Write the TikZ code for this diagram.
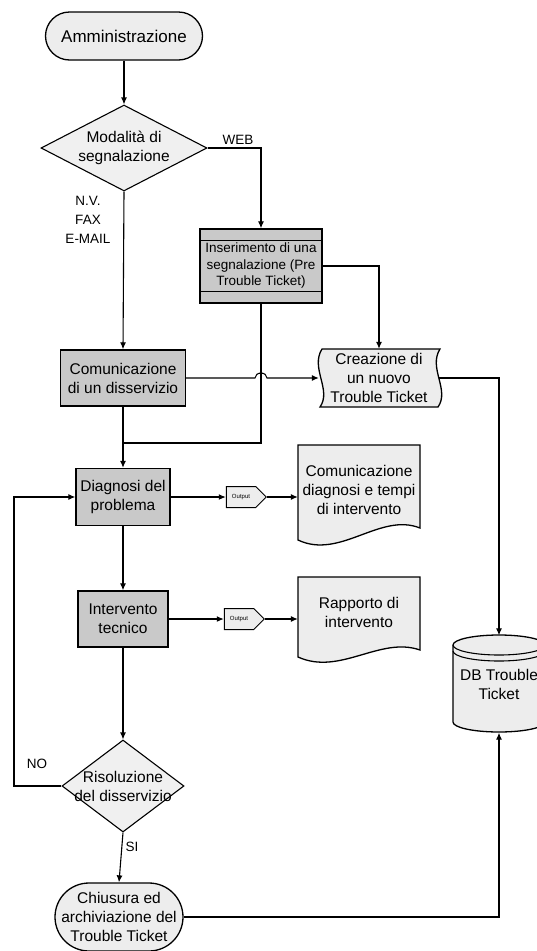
\documentclass[tikz,border=0pt]{standalone}
\usepackage{fontspec}
\setmainfont{Liberation Sans}
\usetikzlibrary{shapes.geometric,shapes.symbols,arrows.meta,backgrounds}

\begin{document}
\begin{tikzpicture}[x=1pt,y=-1pt,
    every node/.style={font=\fontsize{15.5}{19}\selectfont,align=center},
    line/.style={draw,line width=1.1pt},
    arr/.style={line,-{Latex[length=7pt,width=6pt]}},
    term/.style={draw,line width=1.3pt,rectangle,rounded corners=#1,fill=gray!14,inner sep=1pt},
    proc/.style={draw,line width=1.4pt,rectangle,fill=gray!42,inner sep=1pt},
    dec/.style={draw,line width=1.1pt,diamond,fill=gray!12,inner sep=0pt},
    outp/.style={draw,line width=1pt,signal,signal to=east,fill=gray!14,
      font=\fontsize{6}{7}\selectfont,minimum width=40pt,minimum height=21pt,inner sep=1pt},
    shp/.style={draw,line width=1.3pt,fill=gray!14},
    lab/.style={font=\fontsize{13.5}{19}\selectfont},
  ]
  \useasboundingbox (0,0) rectangle (537,951);

  \node[term=24pt,minimum width=157pt,minimum height=48pt,
    font=\fontsize{17}{20}\selectfont] (amm) at (124,36) {Amministrazione};
  \node[dec,minimum width=166pt,minimum height=86pt] (mod) at (124,148) {};
  \node (modtxt) at (mod) {Modalità di\\segnalazione};
  \node[proc,minimum width=122pt,minimum height=74pt,
    font=\fontsize{13.5}{16.5}\selectfont] (ins) at (261,266) {Inserimento di una\\segnalazione (Pre\\Trouble Ticket)};
  \draw[line] ([yshift=-12pt]ins.north west) -- ([yshift=-12pt]ins.north east);
  \draw[line] ([yshift=12pt]ins.south west) -- ([yshift=12pt]ins.south east);
  \node[proc,minimum width=125pt,minimum height=56pt] (com) at (123,378) {Comunicazione\\di un disservizio};
  \node[minimum width=120pt,minimum height=58pt] (cre) at (379,378) {Creazione di\\un nuovo\\Trouble Ticket};
  \node[proc,minimum width=94pt,minimum height=57pt] (dia) at (123,497) {Diagnosi del\\problema};
  \node[outp] (out1) at (241,497) {Output};
  \node[minimum width=122pt,minimum height=90pt] (doc1) at (359,490) {Comunicazione\\diagnosi e tempi\\di intervento};
  \node[proc,minimum width=90pt,minimum height=56pt] (int) at (123,619) {Intervento\\tecnico};
  \node[outp] (out2) at (239,619) {Output};
  \node[minimum width=122pt,minimum height=70pt] (doc2) at (359,612) {Rapporto di\\intervento};
  \node[minimum width=92pt,minimum height=97pt] (db) at (499,684) {DB Trouble\\Ticket};
  \node[dec,minimum width=122pt,minimum height=92pt] (ris) at (123,786) {};
  \node (ristxt) at (ris) {Risoluzione\\del disservizio};
  \node[term=34pt,minimum width=128pt,minimum height=68pt] (chi) at (119,917) {Chiusura ed\\archiviazione del\\Trouble Ticket};

  \begin{scope}[on background layer]
    \fill[white] (0,0) rectangle (537,951);
    \draw[shp] (322,349) -- (440,349) .. controls (428,368) and (450,390) .. (438,407)
      -- (320,407) .. controls (332,390) and (310,368) .. (322,349) -- cycle;
    \draw[shp] (298,445) -- (420,445) -- (420,528) .. controls (380,512) and (340,560) .. (298,540) -- cycle;
    \draw[shp] (298,577) -- (420,577) -- (420,650) .. controls (380,636) and (340,676) .. (298,657) -- cycle;
    \draw[shp] (453,645) -- (453,722) arc[start angle=180,end angle=360,x radius=46pt,y radius=10pt]
      -- (545,645) arc[start angle=0,end angle=180,x radius=46pt,y radius=10pt] -- cycle;
    \draw[line] (453,645) arc[start angle=180,end angle=360,x radius=46pt,y radius=10pt];
    \draw[line] (453,651) arc[start angle=180,end angle=360,x radius=46pt,y radius=10pt];
  \end{scope}

  \node[lab] (web) at (238,140) {WEB};
  \node[lab] (nv) at (88,220) {N.V.\\FAX\\E-MAIL};
  \node[lab] (no) at (37,764) {NO};
  \node[lab] (si) at (132,847) {SI};

  \coordinate (join) at (123,443);
  \coordinate (hopL) at (255,378);
  \coordinate (noturn) at (14,786);
  %
  \draw[arr] (amm) -- (mod);
  \draw[arr] (mod.east) -| (ins.north);
  \draw[arr] (mod.south) -- (com.north);
  \draw[arr] (ins.east) -| (cre.north);
  \draw[line] (ins.south) |- (join);
  \draw[arr] (com.east) -- (hopL) arc[start angle=180,end angle=0,x radius=6pt,y radius=5pt] -- (cre.west);
  \draw[arr] (com.south) -- (dia.north);
  \draw[arr] (cre.east) -| (db.north);
  \draw[arr] (dia.east) -- (out1.west);
  \draw[arr] (out1.east) -- (out1 -| doc1.west);
  \draw[arr] (dia.south) -- (int.north);
  \draw[arr] (int.east) -- (out2.west);
  \draw[arr] (out2.east) -- (out2 -| doc2.west);
  \draw[arr] (int.south) -- (ris.north);
  \draw[arr] (ris.west) -- (noturn) |- (dia.west);
  \draw[arr] (ris.south) -- (chi.north);
  \draw[arr] (chi.east) -| (db.south);
\end{tikzpicture}
\end{document}
